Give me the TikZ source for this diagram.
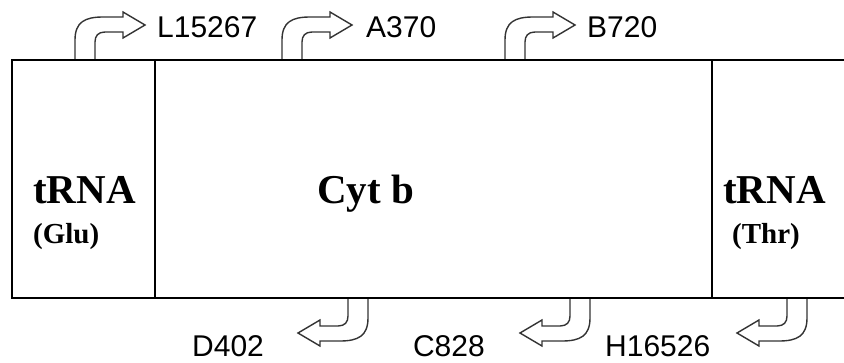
\documentclass[tikz,border=0pt]{standalone}
\usepackage{fontspec}
\setmainfont{Liberation Serif}
\newfontfamily\labfont{Liberation Sans}
\begin{document}
\begin{tikzpicture}[x=1pt,y=-1pt,
  boxline/.style={line width=2.6pt,black},
  sepline/.style={line width=1.8pt,black},
  arrowline/.style={line width=1.4pt,draw=black!80,fill=white,line join=miter},
  bigbold/.style={font=\fontsize{41}{44}\selectfont\bfseries,inner sep=0pt,anchor=base west},
  smallbold/.style={font=\fontsize{29}{32}\selectfont\bfseries,inner sep=0pt,anchor=base west},
  lab/.style={font=\labfont\fontsize{30}{34}\selectfont,inner sep=0pt,anchor=base west},
  turnarrow/.pic={
    \path[arrowline,draw=none] (0,0) -- (0,-19) .. controls (0,-37) and (10,-42) .. (28,-42)
      -- (48,-42) -- (48,-47) -- (70,-34) -- (48,-21) -- (48,-27) -- (30,-27)
      .. controls (23,-27) and (20,-23) .. (20,-17) -- (20,0) -- cycle;
    \draw[arrowline,fill=none] (0,0) -- (0,-19) .. controls (0,-37) and (10,-42) .. (28,-42)
      -- (48,-42) -- (48,-47) -- (70,-34) -- (48,-21) -- (48,-27) -- (30,-27)
      .. controls (23,-27) and (20,-23) .. (20,-17) -- (20,0);
  }]
\useasboundingbox (0,0) rectangle (844,362);
\fill[white] (0,0) rectangle (844,362);

% turn arrows
\path (75,59) pic {turnarrow};
\path (282,59) pic {turnarrow};
\path (505,59) pic {turnarrow};
\path (368,299) pic[rotate=180] {turnarrow};
\path (590,299) pic[rotate=180] {turnarrow};
\path (807,299) pic[rotate=180] {turnarrow};

% gene box
\draw[sepline] (155,60) -- (155,298);
\draw[sepline] (712,60) -- (712,298);
\draw[boxline] (844,60) -- (12,60) -- (12,298) -- (844,298);

% region labels
\node[bigbold] (glu) at (33,203) {tRNA};
\node[smallbold] (glusub) at (33,243) {(Glu)};
\node[bigbold] (cyt) at (317,203) {Cyt b};
\node[bigbold] (thr) at (723,203) {tRNA};
\node[smallbold] (thrsub) at (732,243) {(Thr)};

% primer labels
\node[lab] (l) at (157,37) {L15267};
\node[lab] (a) at (366,37) {A370};
\node[lab] (b) at (587,37) {B720};
\node[lab] (d) at (192,356) {D402};
\node[lab,anchor=base east] (c) at (485,356) {C828};
\node[lab] (h) at (605,356) {H16526};
\end{tikzpicture}
\end{document}
